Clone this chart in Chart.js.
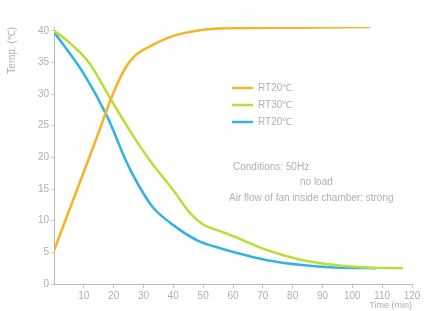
<!DOCTYPE html>
<html>
<head>
<meta charset="utf-8">
<script src="https://cdn.jsdelivr.net/npm/chart.js@4.4.1/dist/chart.umd.min.js"></script>
<style>
  html, body { margin: 0; padding: 0; background: #fff; }
  #wrap { width: 432px; height: 311px; }
</style>
</head>
<body>
<div id="wrap"><canvas id="myChart" width="432" height="311"></canvas></div>
<script>
// series (time in min, temp in degC)
var labels = ["RT20℃", "RT30℃", "RT20℃"];
var colors = ["#f3b52a", "#b9df3c", "#33b4de"];

var riseTime = [0, 7, 14, 20, 24, 27, 32, 40, 49, 58, 80, 106];
var riseTemp = [5.3, 14, 22.7, 30.3, 34.2, 36, 37.5, 39.2, 40.1, 40.4, 40.5, 40.6];

var rt30Time = [0, 4, 12, 19, 26, 32, 40, 46, 50, 56, 62, 71, 83, 94, 105, 117];
var rt30Temp = [40, 38.6, 34.8, 29.2, 23.8, 19.6, 14.8, 11, 9.4, 8.3, 7.2, 5.4, 3.8, 3.0, 2.6, 2.5];

var rt20Time = [0, 10, 18, 24, 28, 33, 40, 48, 56, 62, 71, 83, 94, 108];
var rt20Temp = [39.8, 33.2, 26.3, 19.6, 15.9, 12.2, 9.3, 6.9, 5.6, 4.8, 3.8, 3.0, 2.6, 2.5];

var xTicks = [10, 20, 30, 40, 50, 60, 70, 80, 90, 100, 110, 120];
var yTicks = [0, 5, 10, 15, 20, 25, 30, 35, 40];
var notes = ["Conditions: 50Hz", "no load", "Air flow of fan inside chamber: strong"];

function pts(xs, ys) {
  return xs.map(function (x, i) { return { x: x, y: ys[i] }; });
}

var grey = "#b0b0b0";
var font = { family: "Liberation Sans", size: 10 };

// legend + conditions drawn inside the plot
var notePlugin = {
  id: "notes",
  afterDraw: function (chart) {
    var c = chart.ctx;
    c.save();
    c.font = "10px 'Liberation Sans'";
    c.textBaseline = "middle";
    c.fillStyle = grey;
    var ys = [88, 105, 122];
    for (var i = 0; i < 3; i++) {
      c.strokeStyle = colors[i];
      c.lineWidth = 2.5;
      c.beginPath();
      c.moveTo(232, ys[i]);
      c.lineTo(253, ys[i]);
      c.stroke();
      c.fillText(labels[i], 258, ys[i]);
    }
    c.fillText(notes[0], 233, 167);
    c.fillText(notes[1], 300, 182);
    c.fillText(notes[2], 229, 198);
    c.restore();
  }
};

var ctx = document.getElementById("myChart").getContext("2d");
var myChart = new Chart(ctx, {
  type: "line",
  data: {
    datasets: [
      { label: labels[0], data: pts(riseTime, riseTemp), borderColor: colors[0] },
      { label: labels[1], data: pts(rt30Time, rt30Temp), borderColor: colors[1] },
      { label: labels[2], data: pts(rt20Time, rt20Temp), borderColor: colors[2] }
    ]
  },
  options: {
    responsive: false,
    animation: false,
    layout: { padding: { left: 6, right: 20, top: 27, bottom: 0 } },
    elements: {
      point: { radius: 0 },
      line: { borderWidth: 2.6, cubicInterpolationMode: "monotone" }
    },
    plugins: {
      legend: { display: false },
      tooltip: { enabled: false }
    },
    scales: {
      x: {
        type: "linear",
        min: 0,
        max: 120,
        afterBuildTicks: function (axis) {
          axis.ticks = xTicks.map(function (v) { return { value: v }; });
        },
        afterFit: function (axis) { axis.height = 27; },
        border: { color: "#b8b8b8", width: 1 },
        grid: { display: true, drawOnChartArea: false, tickLength: 4, color: "#c8c8c8" },
        ticks: { color: grey, font: font, padding: 2, maxRotation: 0 },
        title: {
          display: true, text: "Time (min)", align: "end",
          color: grey, font: { family: "Liberation Sans", size: 9 }, padding: { top: -2, bottom: 0 }
        }
      },
      y: {
        min: 0,
        max: 40.6,
        afterBuildTicks: function (axis) {
          axis.ticks = yTicks.map(function (v) { return { value: v }; });
        },
        afterFit: function (axis) { axis.width = 48; },
        border: { color: "#b8b8b8", width: 1 },
        grid: { display: true, drawOnChartArea: false, tickLength: 3, color: "#c8c8c8" },
        ticks: { color: grey, font: font, padding: 2 },
        title: {
          display: true, text: "Temp. (℃)", align: "end",
          color: grey, font: { family: "Liberation Sans", size: 10 }, padding: 0
        }
      }
    }
  },
  plugins: [notePlugin]
});
</script>
</body>
</html>
